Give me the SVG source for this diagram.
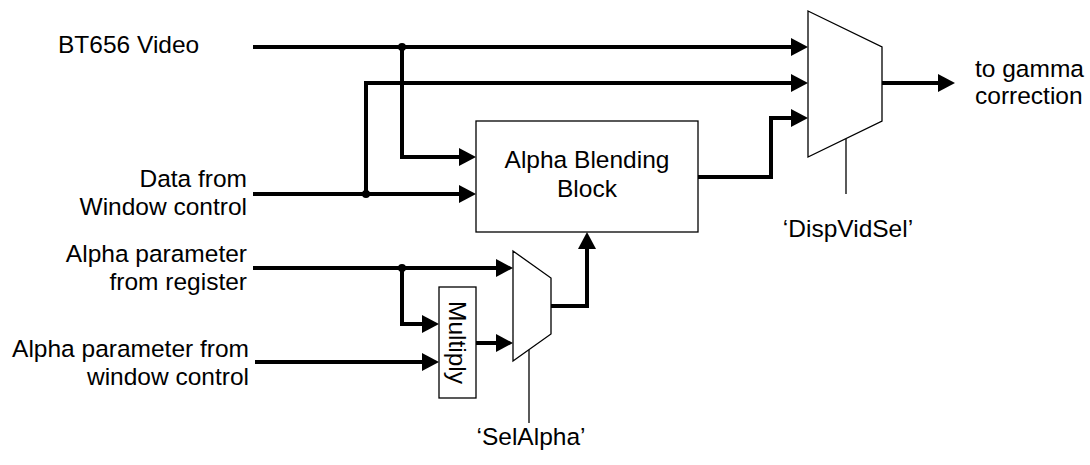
<svg xmlns="http://www.w3.org/2000/svg" width="1090" height="465" viewBox="0 0 1090 465">
<defs>
<marker id="ah" viewBox="0 0 17 18" refX="0" refY="9" markerWidth="17" markerHeight="18" markerUnits="userSpaceOnUse" orient="auto">
<path d="M0,0 L17,9 L0,18 z" fill="#000"/>
</marker>
<style>
.t{font-family:"Liberation Sans",Arial,sans-serif;font-size:24.5px;fill:#000}
.w{fill:none;stroke:#000;stroke-width:4;stroke-linejoin:miter}
.a{marker-end:url(#ah)}
.thin{fill:none;stroke:#000;stroke-width:1.3}
.blk{fill:#fff;stroke:#000;stroke-width:1.3}
.dot{fill:#000}
</style>
</defs>
<rect width="1090" height="465" fill="#fff"/>
<g id="labels">
<text class="t" x="58" y="53">BT656 Video</text>
<text class="t" x="247" y="187" text-anchor="end">Data from</text>
<text class="t" x="247" y="215" text-anchor="end">Window control</text>
<text class="t" x="247" y="262" text-anchor="end">Alpha parameter</text>
<text class="t" x="247" y="290" text-anchor="end">from register</text>
<text class="t" x="249" y="357" text-anchor="end">Alpha parameter from</text>
<text class="t" x="249" y="385" text-anchor="end">window control</text>
<text class="t" x="975" y="77">to gamma</text>
<text class="t" x="975" y="104">correction</text>
<text class="t" x="848" y="237" text-anchor="middle">‘DispVidSel’</text>
<text class="t" x="531" y="445" text-anchor="middle">‘SelAlpha’</text>
</g>
<g id="connectors">
<path class="w a" d="M253,47 L791,47"/>
<path class="w a" d="M402,47 L402,157 L459,157"/>
<path class="w a" d="M253,194 L459,194"/>
<path class="w a" d="M366,194 L366,83 L791,83"/>
<path class="w a" d="M698,177 L771,177 L771,118 L791,118"/>
<path class="w a" d="M882,83 L938,83"/>
<path class="w a" d="M253,268 L496,268"/>
<path class="w a" d="M402,268 L402,324 L422,324"/>
<path class="w a" d="M255,362 L422,362"/>
<path class="w a" d="M476,343 L496,343"/>
<path class="w a" d="M551,306 L587,306 L587,249"/>
<path class="thin" d="M846,139 L846,194"/>
<path class="thin" d="M529,350 L529,423"/>
<circle class="dot" cx="402" cy="47" r="4"/>
<circle class="dot" cx="366" cy="194" r="4"/>
<circle class="dot" cx="402" cy="268" r="4"/>
</g>
<g id="alpha-blending">
<rect class="blk" x="476" y="121" width="222" height="111"/>
<text class="t" x="587" y="168" text-anchor="middle">Alpha Blending</text>
<text class="t" x="587" y="197" text-anchor="middle">Block</text>
</g>
<g id="disp-mux">
<polygon class="blk" points="808,11 882,47 882,121 808,157"/>
</g>
<g id="alpha-mux">
<polygon class="blk" points="513,251 551,278 551,334 513,361"/>
</g>
<g id="multiply">
<rect class="blk" x="439" y="287" width="37" height="111"/>
<text class="t" transform="translate(449,342.5) rotate(90)" text-anchor="middle">Multiply</text>
</g>
</svg>
